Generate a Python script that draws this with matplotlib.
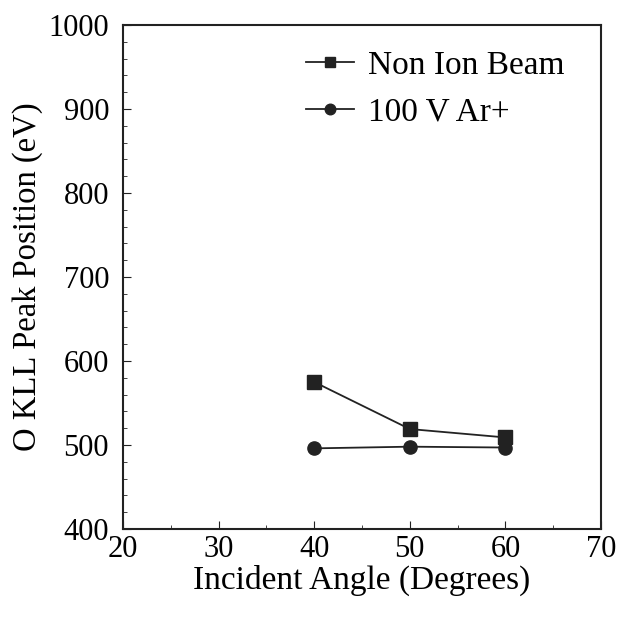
import matplotlib
matplotlib.use("Agg")
import matplotlib.pyplot as plt
from matplotlib.ticker import MultipleLocator

angles = [40, 50, 60]
non_ion = [575, 519, 509]
ar_ion = [496, 498, 497]
labels = ["Non Ion Beam", "100 V Ar+"]

plt.rcParams['font.family'] = ['Liberation Serif', 'DejaVu Serif']

fig = plt.figure(figsize=(6.19, 6.20), dpi=100)
ax = fig.add_axes([123/619, 1-529/620, (601-123)/619, (529-25)/620])

ax.plot(angles, non_ion, color='#222222', marker='s', markersize=9.5, lw=1.3, label=labels[0])
ax.plot(angles, ar_ion, color='#222222', marker='o', markersize=9.5, lw=1.3, label=labels[1])

ax.set_xlim(20, 70)
ax.set_ylim(400, 1000)
ax.xaxis.set_major_locator(MultipleLocator(10))
ax.xaxis.set_minor_locator(MultipleLocator(5))
ax.yaxis.set_major_locator(MultipleLocator(100))
ax.yaxis.set_minor_locator(MultipleLocator(20))
ax.tick_params(which='both', direction='in', labelsize=22, color='#222222')
ax.tick_params(which='major', length=6)
ax.tick_params(which='minor', length=3)
ax.tick_params(axis='y', which='major', pad=10)
ax.tick_params(axis='x', which='major', pad=4)
for s in ax.spines.values():
    s.set_linewidth(1.5)
    s.set_color('#222222')

ax.set_xlabel("Incident Angle (Degrees)", fontsize=24, labelpad=1)
ax.set_ylabel("O KLL Peak Position (eV)", fontsize=23.5, labelpad=4)

ax.legend(loc='upper right', frameon=False, fontsize=24, handlelength=1.42,
          labelspacing=0.5, borderaxespad=0.3, borderpad=0.45, handletextpad=0.42,
          markerscale=0.8, bbox_to_anchor=(0.975, 1.0))

fig.savefig("out.png", dpi=100)
